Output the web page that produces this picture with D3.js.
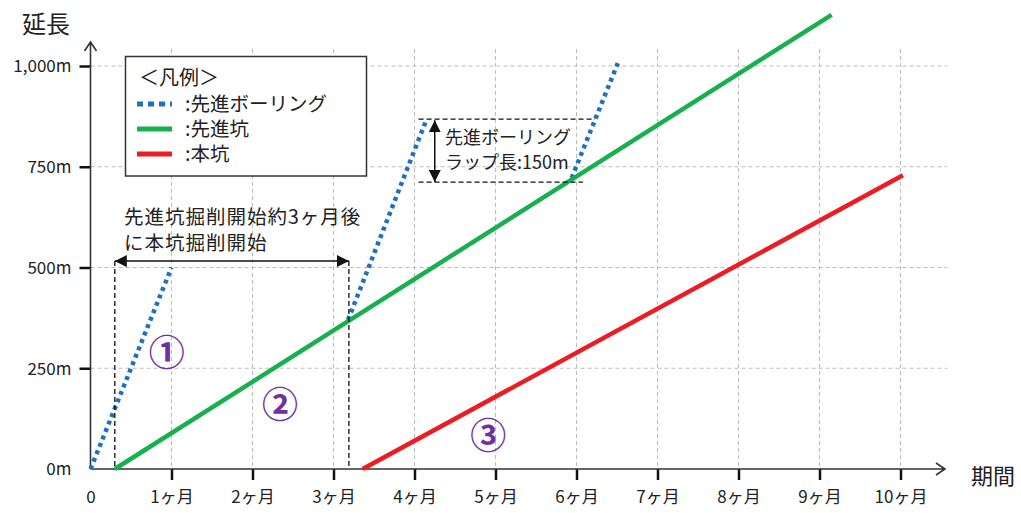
<!DOCTYPE html>
<html>
<head>
<meta charset="utf-8">
<script src="https://cdn.jsdelivr.net/npm/d3@7"></script>
<style>
  body { margin: 0; background: #fff; }
  text { font-family: "Noto Sans CJK JP", "Noto Sans", sans-serif; fill: #222; }
</style>
</head>
<body>
<div id="wrapper"></div>
<script>
'use strict';

//#region DATA
const monthTicks = [0, 1, 2, 3, 4, 5, 6, 7, 8, 9, 10];
const monthLabels = ['0', '1ヶ月', '2ヶ月', '3ヶ月', '4ヶ月', '5ヶ月', '6ヶ月', '7ヶ月', '8ヶ月', '9ヶ月', '10ヶ月'];
const lengthTicks = [0, 250, 500, 750, 1000];
const lengthLabels = ['0m', '250m', '500m', '750m', '1,000m'];

// [month, metres]
const boringSegments = [
  [[0, 0], [1.0, 500]],
  [[3.18, 370], [4.15, 868]],
  [[5.94, 722], [6.51, 1007]]
];
const pilotTunnel = [[0.3, 0], [9.15, 1127]];
const mainTunnel = [[3.36, 0], [10.03, 729]];

const legendTitle = '＜凡例＞';
const legendNames = [':先進ボーリング', ':先進坑', ':本坑'];

const lagStart = 0.3;
const lagEnd = 3.19;
const lagLevel = 516;
const lagText = ['先進坑掘削開始約3ヶ月後', 'に本坑掘削開始'];

const lapTop = 868;
const lapBottom = 712;
const lapText = ['先進ボーリング', 'ラップ長:150m'];

const stepLabels = [
  {text: '①', month: 0.94, value: 288},
  {text: '②', month: 2.34, value: 159},
  {text: '③', month: 4.91, value: 82}
];
//#endregion DATA

//#region DIMENSIONS
const width = 1021;
const height = 513;
const colours = {boring: '#1f70c1', pilot: '#16b04c', main: '#ec1c24', grid: '#bdbdbd', axis: '#333', step: '#7030a0'};
//#endregion DIMENSIONS

//#region CANVAS
const svg = d3.select('#wrapper').append('svg')
  .attr('width', width)
  .attr('height', height);

const defs = svg.append('defs');
defs.append('marker')
  .attr('id', 'head')
  .attr('viewBox', '0 0 10 10')
  .attr('refX', 10).attr('refY', 5)
  .attr('markerWidth', 12).attr('markerHeight', 12)
  .attr('markerUnits', 'userSpaceOnUse')
  .attr('orient', 'auto-start-reverse')
  .append('path').attr('d', 'M0,0 L10,5 L0,10 Z').attr('fill', '#111');
//#endregion CANVAS

//#region SCALES
const xScale = d3.scaleLinear().domain([0, 10]).range([90.5, 900.5]);
const yScale = d3.scaleLinear().domain([0, 1000]).range([469, 66]);
//#endregion SCALES

//#region GRID
const grid = svg.append('g')
  .attr('stroke', colours.grid)
  .attr('stroke-width', 1)
  .attr('stroke-dasharray', '4,3');
grid.selectAll('.vgrid').data(monthTicks.slice(1)).join('line')
  .attr('x1', d => xScale(d)).attr('x2', d => xScale(d))
  .attr('y1', 49).attr('y2', yScale(0));
grid.selectAll('.hgrid').data(lengthTicks.slice(1)).join('line')
  .attr('x1', xScale(0)).attr('x2', 947)
  .attr('y1', d => yScale(d)).attr('y2', d => yScale(d));
//#endregion GRID

//#region AXES
const xAxis = svg.append('g')
  .attr('transform', `translate(0, ${yScale(0)})`)
  .call(d3.axisBottom(xScale).tickValues(monthTicks).tickSize(11)
    .tickFormat((d, i) => monthLabels[i]));
const yAxis = svg.append('g')
  .attr('transform', `translate(${xScale(0)}, 0)`)
  .call(d3.axisLeft(yScale).tickValues(lengthTicks).tickSize(11)
    .tickFormat((d, i) => lengthLabels[i]));

[xAxis, yAxis].forEach(ax => {
  ax.select('.domain').remove();
  ax.selectAll('.tick line').attr('stroke', '#111').attr('stroke-width', 2.5);
  ax.selectAll('.tick').filter(d => d === 0).select('line').remove();
  ax.selectAll('.tick text')
    .style('font-size', '17px')
    .style('font-family', '"Noto Sans CJK JP", sans-serif')
    .attr('fill', '#222');
});
xAxis.selectAll('.tick text').attr('y', 28).attr('dy', '0.35em');
yAxis.selectAll('.tick text').attr('x', -19).attr('dy', '0.35em');

// axis lines with open arrowheads
const axisPath = svg.append('g')
  .attr('stroke', colours.axis).attr('stroke-width', 1.6).attr('fill', 'none');
axisPath.append('path')
  .attr('d', `M${xScale(0)},${yScale(0)} H945 M936,${yScale(0) - 6} L945,${yScale(0)} L936,${yScale(0) + 6}`);
axisPath.append('path')
  .attr('d', `M${xScale(0)},${yScale(0)} V42 M${xScale(0) - 6},51 L${xScale(0)},42 L${xScale(0) + 6},51`);

svg.append('text').attr('x', 22).attr('y', 25).attr('dy', '0.35em')
  .style('font-size', '24px').text('延長');
svg.append('text').attr('x', 971).attr('y', 476).attr('dy', '0.35em')
  .style('font-size', '22px').text('期間');
//#endregion AXES

//#region DRAW DATA
const lineGen = d3.line().x(d => xScale(d[0])).y(d => yScale(d[1]));

svg.append('g').selectAll('path').data(boringSegments).join('path')
  .attr('d', lineGen)
  .attr('fill', 'none')
  .attr('stroke', colours.boring)
  .attr('stroke-width', 4.5)
  .attr('stroke-dasharray', '4,4');

svg.append('path').datum(pilotTunnel)
  .attr('d', lineGen).attr('fill', 'none')
  .attr('stroke', colours.pilot).attr('stroke-width', 4.5);

svg.append('path').datum(mainTunnel)
  .attr('d', lineGen).attr('fill', 'none')
  .attr('stroke', colours.main).attr('stroke-width', 4.5);
//#endregion DRAW DATA

//#region ANNOTATIONS
const notes = svg.append('g');

// lag between pilot tunnel and main tunnel start
notes.selectAll('.lagLine').data([lagStart, lagEnd]).join('line')
  .attr('x1', d => xScale(d)).attr('x2', d => xScale(d))
  .attr('y1', yScale(lagLevel)).attr('y2', yScale(0))
  .attr('stroke', '#111').attr('stroke-width', 1.3).attr('stroke-dasharray', '5,3');
notes.append('line')
  .attr('x1', xScale(lagStart)).attr('x2', xScale(lagEnd))
  .attr('y1', yScale(lagLevel)).attr('y2', yScale(lagLevel))
  .attr('stroke', '#111').attr('stroke-width', 1.5)
  .attr('marker-start', 'url(#head)').attr('marker-end', 'url(#head)');
notes.selectAll('.lagText').data(lagText).join('text')
  .attr('x', 124).attr('y', (d, i) => 217 + i * 26).attr('dy', '0.35em')
  .style('font-size', '19.5px').style('letter-spacing', '1px')
  .text(d => d);

// lap length of advance boring
notes.append('line')
  .attr('x1', xScale(4.05)).attr('x2', xScale(6.23))
  .attr('y1', yScale(lapTop)).attr('y2', yScale(lapTop))
  .attr('stroke', '#111').attr('stroke-width', 1.3).attr('stroke-dasharray', '5,3');
notes.append('line')
  .attr('x1', xScale(4.05)).attr('x2', xScale(6.08))
  .attr('y1', yScale(lapBottom)).attr('y2', yScale(lapBottom))
  .attr('stroke', '#111').attr('stroke-width', 1.3).attr('stroke-dasharray', '5,3');
notes.append('line')
  .attr('x1', xScale(4.25)).attr('x2', xScale(4.25))
  .attr('y1', yScale(lapTop) + 1).attr('y2', yScale(lapBottom))
  .attr('stroke', '#111').attr('stroke-width', 1.5)
  .attr('marker-start', 'url(#head)').attr('marker-end', 'url(#head)');
notes.selectAll('.lapText').data(lapText).join('text')
  .attr('x', 445).attr('y', (d, i) => 138 + i * 25).attr('dy', '0.35em')
  .style('font-size', '18px')
  .text(d => d);

// circled step numbers
notes.selectAll('.step').data(stepLabels).join('text')
  .attr('x', d => xScale(d.month)).attr('y', d => yScale(d.value))
  .attr('dy', '0.35em').attr('text-anchor', 'middle')
  .style('font-size', '36px').style('font-weight', 700)
  .style('fill', colours.step)
  .text(d => d.text);
//#endregion ANNOTATIONS

//#region LEGEND
const legend = svg.append('g');
legend.append('rect')
  .attr('x', 125.5).attr('y', 56.5).attr('width', 241).attr('height', 119.5)
  .attr('fill', '#fff').attr('stroke', '#333').attr('stroke-width', 1.5);
legend.append('text').attr('x', 139).attr('y', 78).attr('dy', '0.35em')
  .style('font-size', '20px').text(legendTitle);
const legendColours = [colours.boring, colours.pilot, colours.main];
const items = legend.selectAll('.item').data(legendNames).join('g')
  .attr('transform', (d, i) => `translate(0, ${104 + i * 25})`);
items.append('line')
  .attr('x1', 137).attr('x2', 172).attr('y1', 0).attr('y2', 0)
  .attr('stroke', (d, i) => legendColours[i])
  .attr('stroke-width', 5)
  .attr('stroke-dasharray', (d, i) => i === 0 ? '6,5' : null);
items.append('text').attr('x', 185).attr('y', 0).attr('dy', '0.35em')
  .style('font-size', '19.5px').text(d => d);
//#endregion LEGEND
</script>
</body>
</html>
